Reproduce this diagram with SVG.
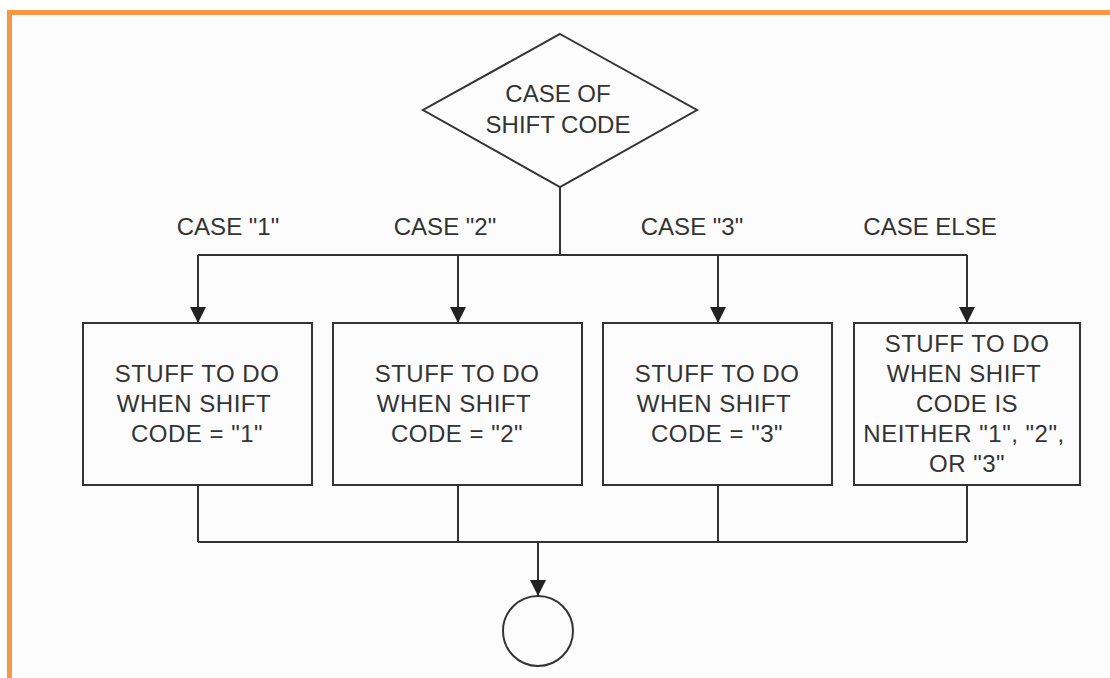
<svg xmlns="http://www.w3.org/2000/svg" width="1110" height="678" viewBox="0 0 1110 678">
  <style>
    .shape { fill: none; stroke: #333; stroke-width: 2; }
    .wire { fill: none; stroke: #333; stroke-width: 2; }
    .arrow { marker-end: url(#head); }
    text { font-family: "Liberation Sans", Arial, sans-serif; font-size: 24px; fill: #333; text-anchor: middle; }
    .box text { letter-spacing: 0.5px; }
  </style>
  <defs>
    <marker id="head" markerUnits="userSpaceOnUse" markerWidth="16" markerHeight="16" viewBox="0 0 16 16" refX="16" refY="8" orient="auto">
      <path d="M0,0 L16,8 L0,16 Z" fill="#222"/>
    </marker>
  </defs>

  <!-- page background and frame -->
  <rect x="0" y="0" width="1110" height="678" fill="#ffffff"/>
  <rect x="12" y="15" width="1098" height="663" fill="#fcfcfc"/>
  <path d="M9.5,678 V12.5 H1110" fill="none" stroke="#f79646" stroke-width="5"/>

  <!-- decision -->
  <g id="decision">
    <polygon class="shape" points="560,34 697,110 560,187 423,110"/>
    <text x="558" y="102">CASE OF</text>
    <text x="558" y="133">SHIFT CODE</text>
  </g>

  <!-- branch labels -->
  <g id="labels">
    <text x="228" y="235">CASE "1"</text>
    <text x="445" y="235">CASE "2"</text>
    <text x="692" y="235">CASE "3"</text>
    <text x="930" y="235">CASE ELSE</text>
  </g>

  <!-- case blocks -->
  <g id="case1" class="box">
    <rect class="shape" x="83" y="323" width="229" height="162"/>
    <text x="197" y="382">STUFF TO DO</text>
    <text x="194" y="412">WHEN SHIFT</text>
    <text x="197" y="442">CODE = "1"</text>
  </g>
  <g id="case2" class="box">
    <rect class="shape" x="333" y="323" width="249" height="162"/>
    <text x="457" y="382">STUFF TO DO</text>
    <text x="454" y="412">WHEN SHIFT</text>
    <text x="457" y="442">CODE = "2"</text>
  </g>
  <g id="case3" class="box">
    <rect class="shape" x="603" y="323" width="229" height="162"/>
    <text x="717" y="382">STUFF TO DO</text>
    <text x="714" y="412">WHEN SHIFT</text>
    <text x="717" y="442">CODE = "3"</text>
  </g>
  <g id="caseElse" class="box">
    <rect class="shape" x="854" y="323" width="226" height="162"/>
    <text x="967" y="352">STUFF TO DO</text>
    <text x="964" y="382">WHEN SHIFT</text>
    <text x="967" y="412">CODE IS</text>
    <text x="964" y="442">NEITHER "1", "2",</text>
    <text x="967" y="472">OR "3"</text>
  </g>

  <!-- end connector -->
  <g id="end">
    <circle class="shape" cx="538" cy="631" r="35"/>
  </g>

  <!-- connectors -->
  <g id="connectors">
    <path class="wire" d="M560,187 V255 M198,255 H967"/>
    <path class="wire arrow" d="M198,255 V323"/>
    <path class="wire arrow" d="M458,255 V323"/>
    <path class="wire arrow" d="M718,255 V323"/>
    <path class="wire arrow" d="M967,255 V323"/>
    <path class="wire" d="M198,485 V542 M458,485 V542 M718,485 V542 M967,485 V542 M198,542 H967"/>
    <path class="wire arrow" d="M538,542 V596"/>
  </g>
</svg>
